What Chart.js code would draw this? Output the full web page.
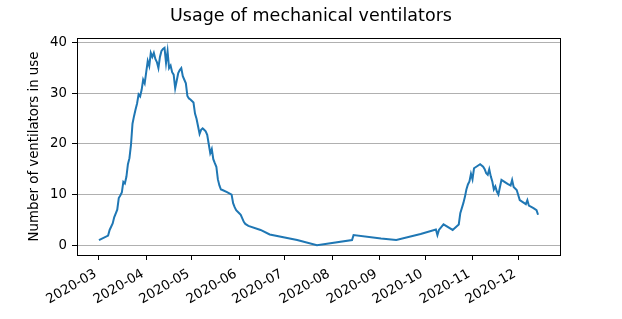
<!DOCTYPE html>
<html><head><meta charset="utf-8">
<script src="https://cdn.jsdelivr.net/npm/chart.js@4/dist/chart.umd.min.js"></script>
<style>html,body{margin:0;padding:0;background:#fff}</style>
</head><body>
<canvas id="c" width="622" height="319" style="width:622px;height:319px;display:block"></canvas>
<script>
const dates = [
 '2020-03-01','2020-03-07','2020-03-08','2020-03-10','2020-03-11','2020-03-13','2020-03-14','2020-03-15','2020-03-16','2020-03-17',
 '2020-03-18','2020-03-19','2020-03-20','2020-03-21','2020-03-22','2020-03-23','2020-03-24','2020-03-25','2020-03-26','2020-03-27',
 '2020-03-28','2020-03-29','2020-03-30','2020-03-31','2020-04-01','2020-04-02','2020-04-03','2020-04-04','2020-04-05','2020-04-06',
 '2020-04-07','2020-04-08','2020-04-09','2020-04-10','2020-04-11','2020-04-12','2020-04-13','2020-04-14','2020-04-15','2020-04-16',
 '2020-04-17','2020-04-18','2020-04-19','2020-04-20','2020-04-21','2020-04-22','2020-04-23','2020-04-24','2020-04-25','2020-04-26',
 '2020-04-27','2020-04-28','2020-04-29','2020-04-30','2020-05-01','2020-05-02','2020-05-03','2020-05-04','2020-05-05','2020-05-06',
 '2020-05-07','2020-05-08','2020-05-09','2020-05-10','2020-05-11','2020-05-12','2020-05-13','2020-05-14','2020-05-15','2020-05-16',
 '2020-05-17','2020-05-18','2020-05-19','2020-05-20','2020-05-21','2020-05-24','2020-05-27','2020-05-28','2020-05-29','2020-05-30',
 '2020-06-01','2020-06-02','2020-06-04','2020-06-05','2020-06-07','2020-06-15','2020-06-21','2020-07-09','2020-07-22','2020-08-14',
 '2020-08-15','2020-09-02','2020-09-12','2020-09-28','2020-10-08','2020-10-09','2020-10-10','2020-10-13','2020-10-19','2020-10-23',
 '2020-10-24','2020-10-26','2020-10-27','2020-10-28','2020-10-29','2020-10-30','2020-10-31','2020-11-01','2020-11-02','2020-11-04',
 '2020-11-06','2020-11-08','2020-11-09','2020-11-10','2020-11-11','2020-11-12','2020-11-13','2020-11-14','2020-11-15','2020-11-16',
 '2020-11-17','2020-11-18','2020-11-20','2020-11-22','2020-11-24','2020-11-26','2020-11-27','2020-11-28','2020-11-30','2020-12-01',
 '2020-12-02','2020-12-04','2020-12-06','2020-12-07','2020-12-08','2020-12-11','2020-12-13','2020-12-14'
];
const ventilators = [
 1,1.9,3,4.3,5.5,7,9.3,9.8,10.4,12.5,
 12.2,13.5,16,17.2,19.8,24,25.5,26.8,28,29.8,
 29.4,30.7,32.7,32,34.2,36.4,35.4,38,37.2,38,
 36.8,36.2,35,37.2,38.4,38.8,39,36,38.3,35,
 35.5,34.2,33.7,31,32.5,34,34.6,35,33.4,32.7,
 32,29.5,29,28.8,28.5,28.2,26,25,23.5,22,
 22.8,23.1,22.8,22.5,21.8,20,18.2,19,17,16.2,
 15.5,13,11.8,11,10.9,10.5,10,8.3,7.5,6.9,
 6.3,6,4.6,4.2,3.8,3,2.1,1,0,1,
 2,1.3,1,2.2,3.1,2,3,4.1,3,4.1,
 6.3,8.3,9.5,11,12,12.6,14.1,13,15.2,15.6,
 16,15.5,15,14.2,13.9,15,13.6,12.6,11,11.6,
 10.6,10,12.9,12.5,12.1,11.8,12.9,11.5,10.9,9.9,
 8.9,8.5,8.1,8.9,7.8,7.3,6.9,6
];
const monthTicks = ['2020-03-01','2020-04-01','2020-05-01','2020-06-01','2020-07-01','2020-08-01','2020-09-01','2020-10-01','2020-11-01','2020-12-01'];
const monthLabels = ['2020-03','2020-04','2020-05','2020-06','2020-07','2020-08','2020-09','2020-10','2020-11','2020-12'];
const yTicks = [0,10,20,30,40];
const chartTitle = 'Usage of mechanical ventilators';
const yTitle = 'Number of ventilators in use';

const dayIndex = s => (Date.parse(s) - Date.parse('2020-01-01')) / 86400000;
const points = dates.map((d, i) => ({x: dayIndex(d), y: ventilators[i]}));
const xs = points.map(p => p.x), ys = points.map(p => p.y);
const xMinD = Math.min(...xs), xMaxD = Math.max(...xs);
const yMinD = Math.min(...ys), yMaxD = Math.max(...ys);
const xm = 0.05 * (xMaxD - xMinD), ym = 0.05 * (yMaxD - yMinD);
const FONT = 'DejaVu Sans';
const TICK_PX = 13.3;

const decor = {
  id: 'decor',
  afterDraw(chart) {
    const {ctx, chartArea: a} = chart;
    ctx.save();
    // spines
    ctx.strokeStyle = '#000';
    ctx.lineWidth = 1;
    ctx.strokeRect(Math.round(a.left) + 0.5, Math.round(a.top) + 0.5, Math.round(a.right - a.left), Math.round(a.bottom - a.top));
    // rotated date labels ending at each month tick
    const sx = chart.scales.x;
    ctx.fillStyle = '#000';
    ctx.font = TICK_PX + 'px "' + FONT + '"';
    monthTicks.forEach((d, i) => {
      const px = sx.getPixelForValue(dayIndex(d));
      ctx.save();
      ctx.translate(px - 1.6, sx.top + 20.9);
      ctx.rotate(-Math.PI / 6);
      ctx.textAlign = 'right';
      ctx.textBaseline = 'alphabetic';
      ctx.fillText(monthLabels[i], 0, 0);
      ctx.restore();
    });
    // title centred on the figure
    ctx.font = '17.5px "' + FONT + '"';
    ctx.textAlign = 'center';
    ctx.textBaseline = 'alphabetic';
    ctx.fillText(chartTitle, chart.width / 2, 21);
    ctx.restore();
  }
};

new Chart(document.getElementById('c'), {
  type: 'line',
  data: {
    datasets: [{
      data: points,
      borderColor: '#1f77b4',
      borderWidth: 2,
      pointRadius: 0,
      tension: 0,
      fill: false
    }]
  },
  options: {
    responsive: false,
    devicePixelRatio: 1,
    animation: false,
    layout: {padding: {left: 0, right: 62, top: 38, bottom: 0}},
    plugins: {
      legend: {display: false},
      tooltip: {enabled: false},
      title: {display: false}
    },
    scales: {
      x: {
        type: 'linear',
        min: xMinD - xm,
        max: xMaxD + xm,
        afterBuildTicks: s => { s.ticks = monthTicks.map(d => ({value: dayIndex(d)})); },
        afterFit: s => { s.height = 64; },
        grid: {display: true, drawOnChartArea: false, drawTicks: true, tickLength: 5, tickColor: '#000', tickWidth: 1},
        border: {display: true, color: '#000', width: 1},
        ticks: {display: false, autoSkip: false}
      },
      y: {
        type: 'linear',
        min: yMinD - ym,
        max: yMaxD + ym,
        afterBuildTicks: s => { s.ticks = yTicks.map(v => ({value: v})); },
        afterFit: s => { s.width = 77; },
        grid: {display: true, color: '#b0b0b0', lineWidth: 1, drawTicks: true, tickLength: 5, tickColor: '#000', tickWidth: 1},
        border: {display: true, color: '#000', width: 1},
        ticks: {padding: 5, color: '#000', font: {family: FONT, size: TICK_PX}, callback: v => v},
        title: {
          display: true, text: yTitle, color: '#000',
          font: {family: FONT, size: TICK_PX}, padding: {top: 27, bottom: 0}
        }
      }
    }
  },
  plugins: [decor]
});
</script>
</body></html>
